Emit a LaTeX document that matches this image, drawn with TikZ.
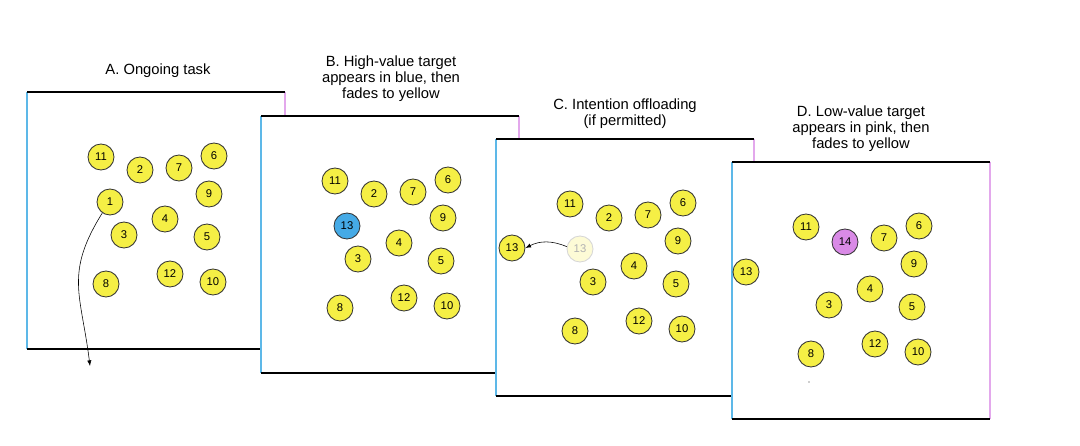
\documentclass[tikz,border=0pt]{standalone}
\usepackage{fontspec}
\setmainfont{Liberation Sans}
\usetikzlibrary{arrows.meta,positioning}
\definecolor{ballYellow}{HTML}{F5EF45}
\definecolor{ballBlue}{HTML}{45AAE6}
\definecolor{ballPink}{HTML}{D98AE6}
\definecolor{edgeBlue}{HTML}{5DB8E8}
\definecolor{edgePink}{HTML}{E3A8EC}
\definecolor{darkgrey}{HTML}{333333}
% balls that stay put in every panel: number/x/y
\newcommand{\ballset}{11/74/65,7/152/76,6/187/64,9/182/102,4/138/127,3/97/143,5/180/145,8/79/192,12/143/182,10/186/190}

\begin{document}
\begin{tikzpicture}[x=0.025cm,y=-0.025cm,
  ball/.style={circle,draw=darkgrey,line width=0.6pt,fill=ballYellow,minimum size=0.65cm,inner sep=0pt,font=\fontsize{8}{9}\selectfont},
  faded/.style={ball,draw=darkgrey!20,fill=ballYellow!22,text=black!30},
  title/.style={align=center,anchor=south,inner sep=0pt,font=\fontsize{10.5}{11.5}\selectfont},
  rim/.style={line width=1.7pt,black},
  leftside/.style={line width=1.3pt,edgeBlue},
  rightside/.style={line width=1.1pt,edgePink}]
  \fill[white] (0,0) rectangle (1080,446);
  \useasboundingbox (0,0) rectangle (1080,446);

  % A
  \begin{scope}[shift={(27,92)}]
    \fill[white] (0,0) rectangle (258,257);
    \draw[rightside] (258,0) -- (258,257);
    \draw[leftside] (0,0) -- (0,257);
    \draw[rim] (0,0) -- (258,0) (0,257) -- (258,257);
    \node[title] (atitle) at (131,-14) {A. Ongoing task};
    \foreach \n/\cx/\cy in \ballset
      \node[ball] (a\n) at (\cx,\cy) {\n};
    \node[ball] (a2) at (113,78) {2};
    \node[ball] (a1) at (83,110) {1};
    \coordinate (aend) at (63,274);
    \draw[-{Latex[length=4pt]}] (a1.235) to[out=238,in=97,looseness=1.2] (aend);
  \end{scope}

  % B
  \begin{scope}[shift={(261,116)}]
    \fill[white] (0,0) rectangle (258,257);
    \draw[rightside] (258,0) -- (258,257);
    \draw[leftside] (0,0) -- (0,257);
    \draw[rim] (0,0) -- (258,0) (0,257) -- (258,257);
    \node[title] (btitle) at (130,-14) {B. High-value target\\appears in blue, then\\fades to yellow};
    \foreach \n/\cx/\cy in \ballset
      \node[ball] (b\n) at (\cx,\cy) {\n};
    \node[ball] (b2) at (113,78) {2};
    \node[ball,fill=ballBlue] (b13) at (86,110) {13};
  \end{scope}

  % C
  \begin{scope}[shift={(496,139)}]
    \fill[white] (0,0) rectangle (258,257);
    \draw[rightside] (258,0) -- (258,257);
    \draw[leftside] (0,0) -- (0,257);
    \draw[rim] (0,0) -- (258,0) (0,257) -- (258,257);
    \node[title] (ctitle) at (129,-10) {C. Intention offloading\\(if permitted)};
    \foreach \n/\cx/\cy in \ballset
      \node[ball] (c\n) at (\cx,\cy) {\n};
    \node[ball] (c2) at (113,79) {2};
    \node[faded] (cold) at (84,110) {13};
    \node[ball] (c13) at (16,109) {13};
    \draw[-{Latex[length=4pt]}] (cold.170) to[bend right=25] (c13.east);
  \end{scope}

  % D
  \begin{scope}[shift={(732,162)}]
    \fill[white] (0,0) rectangle (258,257);
    \draw[rightside] (258,0) -- (258,257);
    \draw[leftside] (0,0) -- (0,257);
    \draw[rim] (0,0) -- (258,0) (0,257) -- (258,257);
    \node[title] (dtitle) at (129,-10) {D. Low-value target\\appears in pink, then\\fades to yellow};
    \foreach \n/\cx/\cy in \ballset
      \node[ball] (d\n) at (\cx,\cy) {\n};
    \node[ball,fill=ballPink] (d14) at (113,80) {14};
    \node[ball] (d13) at (14,110) {13};
    \fill[darkgrey] (77,220) circle (0.5pt);
  \end{scope}
\end{tikzpicture}
\end{document}
